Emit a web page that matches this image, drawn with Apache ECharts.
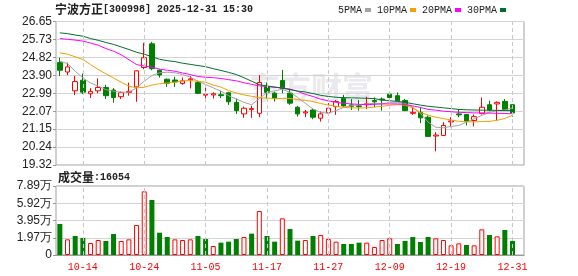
<!DOCTYPE html>
<html><head><meta charset="utf-8">
<script src="https://cdn.jsdelivr.net/npm/echarts@6/dist/echarts.min.js"></script>
<style>html,body{margin:0;padding:0;background:#fff}#c{width:578px;height:276px}</style>
</head><body><div id="c"></div>
<script>
const dates = ['10-09','10-10','10-13','10-14','10-15','10-16','10-17','10-20','10-21','10-22','10-23','10-24','10-27','10-28','10-29','10-30','10-31',
'11-03','11-04','11-05','11-06','11-07','11-10','11-11','11-12','11-13','11-14','11-17','11-18','11-19','11-20','11-21','11-24','11-25','11-26','11-27','11-28',
'12-01','12-02','12-03','12-04','12-05','12-08','12-09','12-10','12-11','12-12','12-15','12-16','12-17','12-18','12-19','12-22','12-23','12-24','12-25','12-26','12-29','12-30','12-31'];
const opens = [24.55,24.07,23.11,23.65,22.96,23.11,23.28,23.15,22.81,23.03,
23.31,24.30,25.51,24.16,23.70,23.66,23.48,23.67,23.53,22.89,
22.90,22.91,23.01,22.52,21.93,22.15,21.96,23.31,22.99,23.63,
22.99,22.27,21.98,22.13,21.71,21.99,22.30,22.73,22.39,22.34,
22.40,22.61,22.69,22.94,22.86,22.61,21.96,22.01,21.76,20.80,
20.83,21.52,21.93,21.90,21.59,21.96,22.40,22.44,22.57,22.40];
const closes = [24.16,24.33,23.58,23.04,23.07,23.28,22.86,22.77,23.01,23.08,
24.13,24.80,24.24,23.92,23.50,23.56,23.62,23.72,22.98,22.93,
22.96,22.86,22.55,22.10,22.22,22.20,23.53,23.03,22.73,23.24,
22.48,21.93,22.03,21.76,21.93,22.22,22.56,22.34,22.32,22.30,
22.45,22.55,22.64,22.77,22.60,22.10,22.01,21.73,20.78,20.85,
21.34,21.57,21.88,21.56,21.79,22.27,22.13,22.52,22.15,21.98];
const lows = [23.87,23.91,22.89,22.94,22.74,22.99,22.69,22.50,22.69,22.86,
22.55,24.21,24.16,23.79,23.31,23.31,23.42,23.23,22.94,22.61,
22.72,22.74,22.39,21.93,21.73,21.73,21.76,22.72,22.56,22.99,
22.39,21.79,21.76,21.66,21.54,21.88,21.88,22.30,22.13,22.10,
22.18,22.27,22.10,22.69,22.57,22.07,21.88,21.46,20.78,20.02,
20.80,21.25,21.76,21.34,21.29,21.90,22.07,21.59,22.10,21.79];
const highs = [24.80,24.55,23.87,23.99,23.25,23.74,23.42,23.25,23.08,23.53,
24.16,25.56,25.61,24.21,23.74,23.82,23.79,23.87,23.62,23.28,
23.03,23.11,23.06,22.72,22.30,22.35,23.91,23.53,23.07,24.18,
23.16,22.34,22.13,22.18,22.05,22.48,22.64,22.90,22.69,22.64,
22.81,22.77,22.77,23.03,23.03,22.69,22.30,22.27,21.85,21.00,
21.51,21.76,22.18,21.93,21.90,22.77,22.61,22.57,22.69,22.44];
const volumes = [35450,17900,21700,19400,13700,17150,16000,24000,16000,17900,
34300,72800,62900,25500,20600,17900,17150,17900,21700,18300,
10300,14100,15250,18300,20600,24400,50300,21700,15250,41900,
29700,16400,17150,21700,22900,18300,15250,12600,12600,14100,
14100,9150,17150,19050,12600,16000,20600,14900,20600,19050,
17150,11050,13300,11400,11050,29350,22900,21350,28600,16054];
const ma5 = [24.62,24.50,24.11,23.77,23.51,23.35,23.17,23.09,23.04,23.04,
23.26,23.60,23.89,24.03,24.06,24.03,23.94,23.81,23.60,23.43,
23.26,23.09,22.86,22.69,22.52,22.40,22.71,23.03,23.11,23.19,
23.03,22.77,22.47,22.18,22.01,21.96,22.10,22.27,22.35,22.40,
22.44,22.47,22.44,22.52,22.52,22.47,22.27,21.96,21.51,21.25,
21.22,21.29,21.34,21.51,21.68,21.85,22.01,22.10,22.13,22.24];
const ma10 = [25.05,24.98,24.85,24.71,24.45,24.20,23.98,23.77,23.55,23.35,
23.26,23.29,23.40,23.47,23.51,23.55,23.62,23.63,23.60,23.55,
23.40,23.30,23.12,23.00,22.90,22.83,22.76,22.74,22.71,22.72,
22.72,22.66,22.62,22.56,22.46,22.38,22.32,22.26,22.24,22.23,
22.24,22.28,22.32,22.37,22.40,22.38,22.24,22.00,21.87,21.76,
21.69,21.62,21.55,21.53,21.52,21.54,21.55,21.60,21.70,21.86];
const ma20 = [25.78,25.74,25.70,25.65,25.55,25.44,25.27,25.13,24.95,24.70,
24.45,24.38,24.32,24.22,24.16,24.11,24.02,23.94,23.84,23.80,
23.78,23.74,23.68,23.62,23.52,23.44,23.36,23.33,23.29,23.26,
23.20,23.08,22.93,22.82,22.68,22.60,22.52,22.47,22.44,22.42,
22.40,22.42,22.44,22.44,22.44,22.42,22.34,22.26,22.16,22.12,
22.07,22.04,22.01,22.00,21.98,21.98,21.97,21.96,21.95,21.94];
const ma30 = [26.07,26.03,25.96,25.90,25.78,25.69,25.58,25.48,25.35,25.22,
25.08,24.98,24.85,24.72,24.65,24.60,24.52,24.46,24.40,24.34,
24.24,24.15,24.05,23.94,23.78,23.60,23.42,23.36,23.30,23.24,
23.17,23.10,23.05,22.97,22.88,22.82,22.78,22.76,22.75,22.74,
22.73,22.71,22.64,22.60,22.57,22.52,22.45,22.38,22.32,22.28,
22.24,22.20,22.16,22.14,22.13,22.12,22.12,22.11,22.10,22.10];
const priceTicks = ['19.32','20.24','21.15','22.07','22.99','23.90','24.82','25.73','26.65'];
const volTicks = ['0','1.97万','3.95万','5.92万','7.89万'];
const labelDates = ['10-14','10-24','11-05','11-17','11-27','12-09','12-19','12-31'];
const seriesNames = ['5PMA','10PMA','20PMA','30PMA'];

const cats = dates.concat(['']);
const MONO = "'Liberation Mono', 'DejaVu Sans Mono', monospace";
const CJK = "'Noto Sans CJK SC', sans-serif";
const gridLine = '#d4d4d4';
const borderC = '#a0a0a0';
const vlines = {
  symbol: ['none','none'], silent: true, animation: false,
  label: {show: false},
  lineStyle: {type: [4,3], color: '#c8c8c8', width: 1},
  data: labelDates.map(d => ({xAxis: d}))
};
const candleData = dates.map((d,i) => [opens[i], closes[i], lows[i], highs[i]]);
const volData = volumes.map((v,i) => {
  const prev = i > 0 ? closes[i-1] : opens[i];
  const up = closes[i] > prev;
  return {value: v, itemStyle: up ? {color: '#ffffff', borderColor: '#ff0000', borderWidth: 1} : {color: '#008000', borderColor: '#008000', borderWidth: 0}};
});
const maColors = ['#a3a3a3', '#f5a000', '#ff00ff', '#006f2e'];
const maData = [ma5, ma10, ma20, ma30];

const chart = echarts.init(document.getElementById('c'), null, {renderer: 'canvas'});
chart.setOption({
  animation: false,
  backgroundColor: '#ffffff',
  title: [
    {text: '{a|宁波方正}{b|[300998] 2025-12-31 15:30}', left: 55, top: 3, padding: 0,
     textStyle: {rich: {a: {fontFamily: CJK, fontSize: 12, color: '#222'}, b: {fontFamily: MONO, fontSize: 10, color: '#222'}}}},
    {text: '{a|成交量}{b|:16054}', left: 58, top: 171, padding: 0,
     textStyle: {rich: {a: {fontFamily: CJK, fontSize: 12, color: '#222'}, b: {fontFamily: MONO, fontSize: 10, color: '#222'}}}}
  ],
  legend: {
    data: seriesNames, left: 338, top: 5, align: 'right', icon: 'rect',
    itemWidth: 6, itemHeight: 4, itemGap: 6, padding: 0,
    textStyle: {fontFamily: MONO, fontSize: 10, color: '#222', padding: [0,-2,0,0]}
  },
  graphic: [{
    type: 'text', left: 249, top: 72, z: 0, silent: true,
    style: {text: '东方财富', font: 'bold 31px "Noto Sans CJK SC"', fill: '#e9e9ee'}
  }],
  grid: [
    {left: 56, right: 54, top: 21.5, height: 143.5, show: true, borderColor: borderC, borderWidth: 1, backgroundColor: 'transparent'},
    {left: 56, right: 54, top: 186, height: 69, show: true, borderColor: borderC, borderWidth: 1, backgroundColor: 'transparent'}
  ],
  xAxis: [
    {type: 'category', gridIndex: 0, data: cats, boundaryGap: true,
     axisLine: {show: false}, axisTick: {show: false}, axisLabel: {show: false}, splitLine: {show: false}},
    {type: 'category', gridIndex: 1, data: cats, boundaryGap: true,
     axisLine: {show: true, lineStyle: {color: '#999'}}, axisTick: {show: false},
     axisLabel: {show: true, interval: (idx, val) => labelDates.includes(val), color: '#ff0000',
       fontFamily: MONO, fontSize: 10, margin: 7},
     splitLine: {show: false}}
  ],
  yAxis: [
    {type: 'value', gridIndex: 0, min: 19.32, max: 26.65, show: false, scale: true},
    {type: 'value', gridIndex: 0, min: 0, max: 8, interval: 1, position: 'left',
     axisLine: {show: false}, axisTick: {show: true, length: 3, lineStyle: {color: '#999'}},
     axisLabel: {formatter: v => priceTicks[Math.round(v)], fontFamily: "'Liberation Sans', Arial, sans-serif", fontSize: 12, color: '#222', margin: 4},
     splitLine: {show: true, lineStyle: {color: gridLine, width: 1}}},
    {type: 'value', gridIndex: 1, min: 0, max: 78900, interval: 19725, position: 'left',
     axisLine: {show: false}, axisTick: {show: true, length: 3, lineStyle: {color: '#999'}},
     axisLabel: {formatter: v => volTicks[Math.round(v / 19725)], fontFamily: "'Liberation Sans', Arial, sans-serif", fontSize: 12, color: '#222', margin: 4},
     splitLine: {show: true, lineStyle: {color: gridLine, width: 1}}}
  ],
  series: [
    {type: 'candlestick', name: 'K', xAxisIndex: 0, yAxisIndex: 0, data: candleData, barWidth: 5,
     itemStyle: {color: '#ffffff', color0: '#008000', borderColor: '#ff0000', borderColor0: '#008000', borderWidth: 1},
     markLine: vlines, z: 3},
    ...seriesNames.map((n, k) => ({
      type: 'line', name: n, xAxisIndex: 0, yAxisIndex: 0, data: maData[k], symbol: 'none', smooth: false,
      lineStyle: {color: maColors[k], width: 1}, itemStyle: {color: maColors[k]}, z: 4, silent: true
    })),
    {type: 'bar', name: 'VOL', xAxisIndex: 1, yAxisIndex: 2, data: volData, barWidth: 5, markLine: vlines}
  ]
});
</script></body></html>
